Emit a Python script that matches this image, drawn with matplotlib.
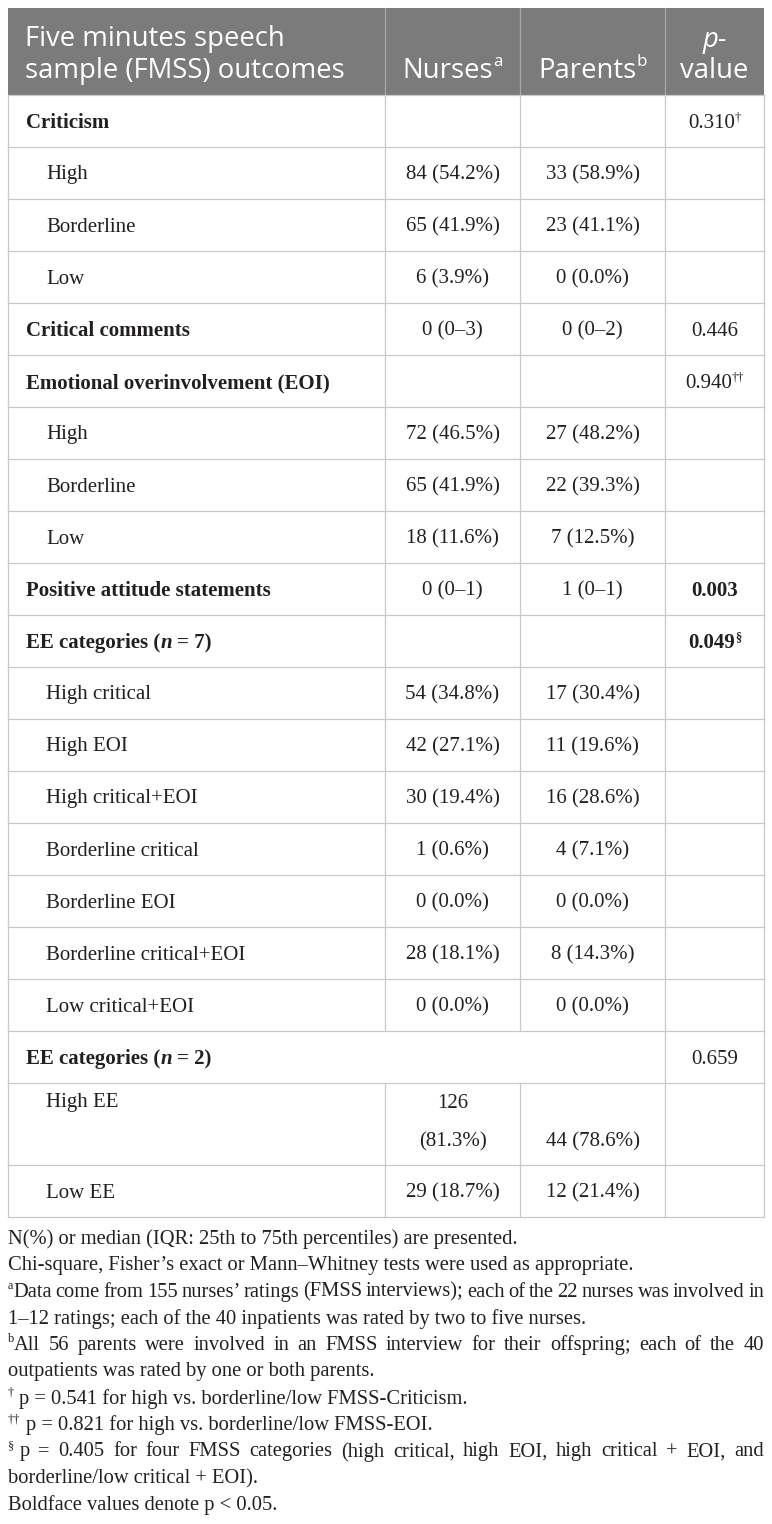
import matplotlib
matplotlib.use("Agg")
import matplotlib.pyplot as plt
from matplotlib.patches import Rectangle

# ---- table content ----
header_left = ["Five minutes speech", "sample (FMSS) outcomes"]
col_heads = [("Nurses", "a"), ("Parents", "b")]

labels = ["Criticism", "High", "Borderline", "Low", "Critical comments",
          "Emotional overinvolvement (EOI)", "High", "Borderline", "Low",
          "Positive attitude statements", "EE categories (n = 7)",
          "High critical", "High EOI", "High critical+EOI", "Borderline critical",
          "Borderline EOI", "Borderline critical+EOI", "Low critical+EOI",
          "EE categories (n = 2)", "High EE", "Low EE"]
section = [1, 0, 0, 0, 1, 1, 0, 0, 0, 1, 1, 0, 0, 0, 0, 0, 0, 0, 1, 0, 0]
nurses = ["", "84 (54.2%)", "65 (41.9%)", "6 (3.9%)", "0 (0\u20133)", "",
          "72 (46.5%)", "65 (41.9%)", "18 (11.6%)", "0 (0\u20131)", "",
          "54 (34.8%)", "42 (27.1%)", "30 (19.4%)", "1 (0.6%)", "0 (0.0%)",
          "28 (18.1%)", "0 (0.0%)", "", "126\n(81.3%)", "29 (18.7%)"]
parents = ["", "33 (58.9%)", "23 (41.1%)", "0 (0.0%)", "0 (0\u20132)", "",
           "27 (48.2%)", "22 (39.3%)", "7 (12.5%)", "1 (0\u20131)", "",
           "17 (30.4%)", "11 (19.6%)", "16 (28.6%)", "4 (7.1%)", "0 (0.0%)",
           "8 (14.3%)", "0 (0.0%)", "", "44 (78.6%)", "12 (21.4%)"]
pvals = ["0.310", "", "", "", "0.446", "0.940", "", "", "", "0.003", "0.049",
         "", "", "", "", "", "", "", "0.659", "", ""]
pmarks = ["\u2020", "", "", "", "", "\u2020\u2020", "", "", "", "", "\u00a7",
          "", "", "", "", "", "", "", "", "", ""]
pbold = [0, 0, 0, 0, 0, 0, 0, 0, 0, 1, 1, 0, 0, 0, 0, 0, 0, 0, 0, 0, 0]
merged = [0] * 18 + [1, 0, 0]          # row spanning first three columns
tall = [0] * 19 + [1, 0]

footnotes = [
    ("", "N(%) or median (IQR: 25th to 75th percentiles) are presented.", False),
    ("", "Chi-square, Fisher\u2019s exact or Mann\u2013Whitney tests were used as appropriate.", False),
    ("a", "Data come from 155 nurses\u2019 ratings (FMSS interviews); each of the 22 nurses was involved in", True),
    ("", "1\u201312 ratings; each of the 40 inpatients was rated by two to five nurses.", False),
    ("b", "All 56 parents were involved in an FMSS interview for their offspring; each of the 40", True),
    ("", "outpatients was rated by one or both parents.", False),
    ("\u2020", " p = 0.541 for high vs. borderline/low FMSS-Criticism.", False),
    ("\u2020\u2020", " p = 0.821 for high vs. borderline/low FMSS-EOI.", False),
    ("\u00a7", " p = 0.405 for four FMSS categories (high critical, high EOI, high critical + EOI, and", True),
    ("", "borderline/low critical + EOI).", False),
    ("", "Boldface values denote p < 0.05.", False),
]

# ---- layout ----
W, H = 772, 1524
L, R = 8, 764
cols = [L, 385, 520, 665, R]
head_top, head_bot = 8, 95
row_h, tall_h = 52, 82
grid_c = "#c8c8c8"
txt_c = "#231f20"
serif = "Liberation Serif"
sans = "Open Sans"
body_fs = 15
foot_fs = 14.8
head_fs = 19.8

fig = plt.figure(figsize=(W / 100, H / 100), dpi=100)
ax = fig.add_axes([0, 0, 1, 1])
ax.set_xlim(0, W)
ax.set_ylim(H, 0)
ax.axis("off")
renderer = fig.canvas.get_renderer()


def _ext(s, kw):
    t = ax.text(0, 0, s, **kw)
    w = t.get_window_extent(renderer).width
    t.remove()
    return w


def width_of(s, kw):
    # advance width, measured between two sentinels so spaces count
    if not s:
        return 0.0
    return _ext("|" + s + "|", kw) - _ext("||", kw)


def draw_runs(x, y, parts, ha="left"):
    # parts: list of (string, text kwargs, vertical offset)
    widths = [width_of(s, kw) for s, kw, _ in parts]
    total = sum(widths)
    if ha == "center":
        x = x - total / 2
    elif ha == "right":
        x = x - total
    for (s, kw, dy), w in zip(parts, widths):
        lead = len(s) - len(s.lstrip(" "))
        core = s.strip(" ")
        if core:
            off = width_of(" " * lead, kw) if lead else 0
            ax.text(x + off, y + dy, core, va="center", ha="left", **kw)
        x += w
    return total


def fkw(family, size, color=txt_c, weight="normal", style="normal"):
    return dict(family=family, fontsize=size, color=color, fontweight=weight, fontstyle=style)


# header
ax.add_patch(Rectangle((L, head_top), R - L, head_bot - head_top, facecolor="#7b7b7b",
                       edgecolor="none", zorder=0))
for cx in cols[1:-1]:
    ax.plot([cx, cx], [head_top, head_bot], color="#a8a8a8", lw=0.9, zorder=1)
hw = fkw(sans, head_fs, color="white")
hs = fkw(sans, head_fs * 0.62, color="white")
ax.text(25, 39, header_left[0], va="center", ha="left", **hw)
ax.text(25, 71, header_left[1], va="center", ha="left", **hw)
for (name, sup), c0, c1 in zip(col_heads, cols[1:3], cols[2:4]):
    draw_runs((c0 + c1) / 2, 71, [(name, hw, 0), (sup, hs, -9)], ha="center")
pc = (cols[3] + cols[4]) / 2
ax.text(pc, 40, "p-", va="center", ha="center", **fkw(sans, head_fs, color="white", style="italic"))
ax.text(pc, 71, "value", va="center", ha="center", **hw)

# body rows
norm = fkw(serif, body_fs)
bold = fkw(serif, body_fs, weight="bold")
bital = fkw(serif, body_fs, weight="bold", style="italic")
sup_n = fkw(serif, body_fs * 0.6)
sup_b = fkw(serif, body_fs * 0.6, weight="bold")
dy0 = 2

y = head_bot
for i, lab in enumerate(labels):
    h = tall_h if tall[i] else row_h
    top, bot = y, y + h
    mid = (top + bot) / 2 + dy0
    ax.plot([L, R], [bot, bot], color=grid_c, lw=0.9)
    inner = [cols[3]] if merged[i] else cols[1:4]
    for cx in [L, R] + inner:
        ax.plot([cx, cx], [top, bot], color=grid_c, lw=0.9)

    line1 = top + 20 if tall[i] else mid
    line2 = top + 59
    if section[i]:
        if "(n = " in lab:
            pre, rest = lab.split("(n")
            draw_runs(26, line1, [(pre + "(", bold, 0), ("n", bital, 0), (rest, bold, 0)])
        else:
            ax.text(26, line1, lab, va="center", ha="left", **bold)
    else:
        ax.text(46, line1, lab, va="center", ha="left", **norm)

    for val, c0, c1 in ((nurses[i], cols[1], cols[2]), (parents[i], cols[2], cols[3])):
        if not val:
            continue
        cx = (c0 + c1) / 2
        if "\n" in val:
            for k, part in enumerate(val.split("\n")):
                ax.text(cx, line1 + k * (line2 - line1), part, va="center", ha="center", **norm)
        else:
            yy = line2 if tall[i] else mid
            ax.text(cx, yy, val, va="center", ha="center", **norm)

    if pvals[i]:
        kw = bold if pbold[i] else norm
        skw = sup_b if pbold[i] else sup_n
        parts = [(pvals[i], kw, 0)]
        if pmarks[i]:
            parts.append((pmarks[i], skw, -6))
        draw_runs(pc, mid, parts, ha="center")
    y = bot

# top border of body
ax.plot([L, R], [head_bot, head_bot], color=grid_c, lw=0.9)

# footnotes
fn = fkw(serif, foot_fs)
fs_sup = fkw(serif, foot_fs * 0.6)
fy = 1239
for sup, text, justify in footnotes:
    if justify:
        words = text.strip().split(" ")
        tokens = [[(w, fn, 0)] for w in words]
        if sup:
            lead = " " if text.startswith(" ") else ""
            tokens[0] = [(sup, fs_sup, -6), (lead + words[0], fn, 0)]
        ws = [sum(width_of(s, kw) for s, kw, _ in tok) for tok in tokens]
        gap = (R - L - sum(ws)) / (len(tokens) - 1)
        x = L
        for tok, w in zip(tokens, ws):
            draw_runs(x, fy, tok)
            x += w + gap
    else:
        parts = []
        if sup:
            parts.append((sup, fs_sup, -6))
        parts.append((text, fn, 0))
        draw_runs(L, fy, parts)
    fy += 26.6

fig.savefig("out.png", dpi=100)
